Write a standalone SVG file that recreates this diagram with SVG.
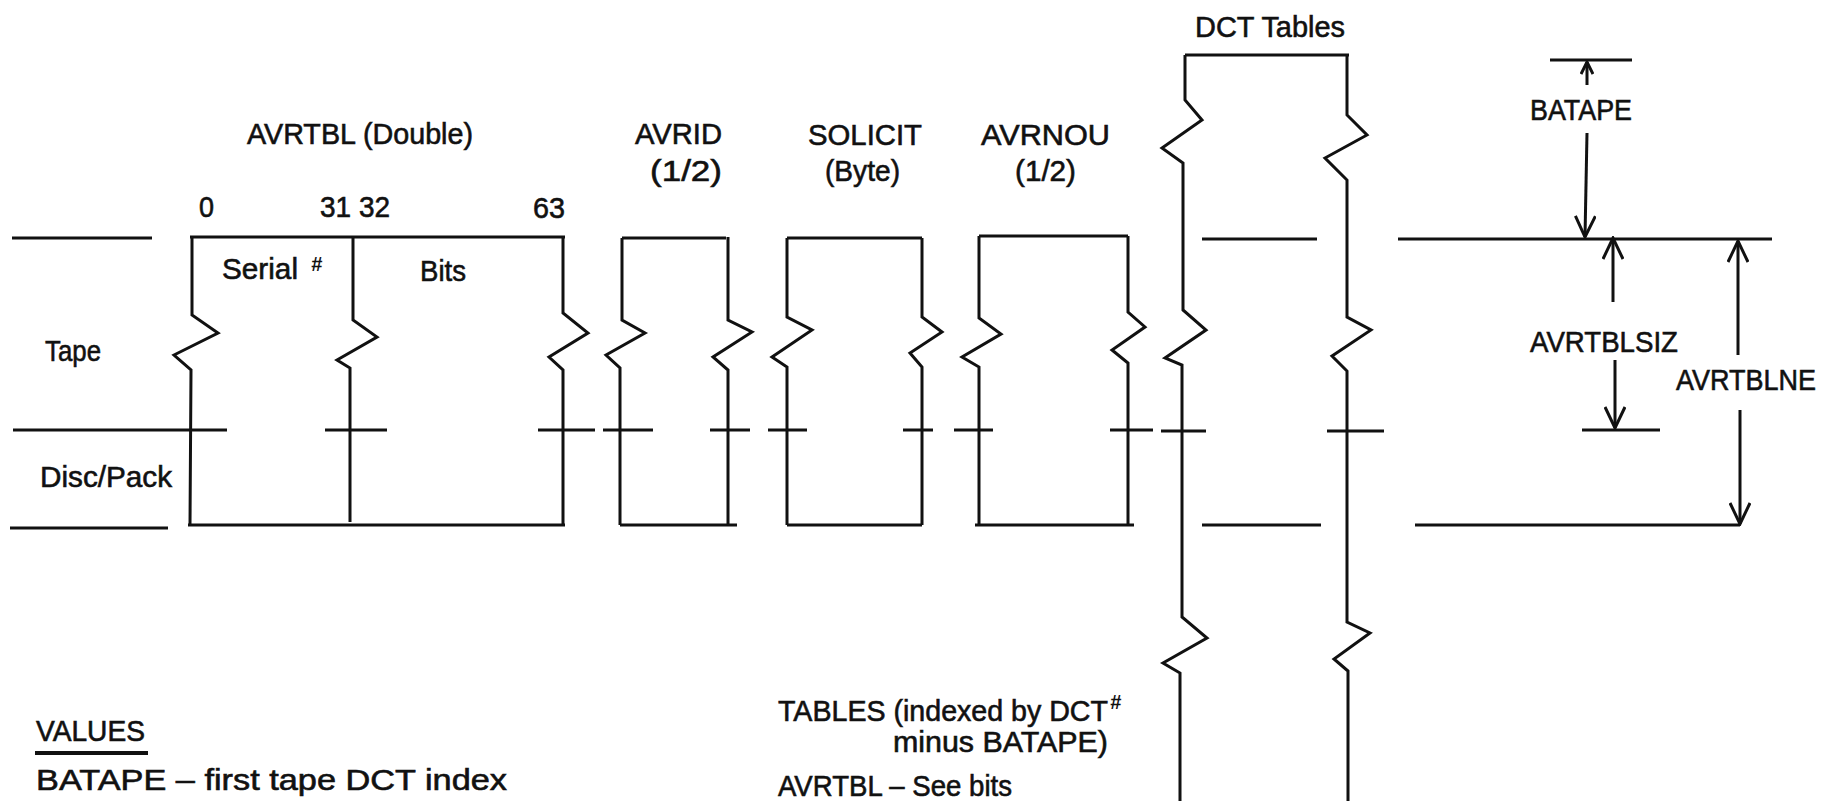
<svg xmlns="http://www.w3.org/2000/svg" width="1829" height="801" viewBox="0 0 1829 801">
<style>
  .ln { fill: none; stroke: #111; stroke-width: 3; stroke-linejoin: miter; stroke-linecap: butt; }
  .t { font-family: "Liberation Sans Narrow", "Liberation Sans", Arial, sans-serif; font-size: 30px; fill: #111; stroke: #111; stroke-width: 0.6; }
  .n { font-family: "Liberation Sans Narrow", "Liberation Sans", Arial, sans-serif; font-size: 29px; fill: #111; stroke: #111; stroke-width: 0.6; }
  .sup { font-family: "Liberation Sans", Arial, sans-serif; font-size: 20px; font-weight: bold; font-style: italic; stroke-width: 0; }
</style>
<defs>
  <marker id="vh" viewBox="0 0 24 22" refX="22" refY="11" markerWidth="24" markerHeight="22" markerUnits="userSpaceOnUse" orient="auto">
    <path d="M1,1 L22,11 L1,21" fill="none" stroke="#111" stroke-width="3"/>
  </marker>
  <marker id="vs" viewBox="0 0 14 14" refX="13" refY="7" markerWidth="14" markerHeight="14" markerUnits="userSpaceOnUse" orient="auto">
    <path d="M1,1 L13,7 L1,13" fill="none" stroke="#111" stroke-width="3"/>
  </marker>
</defs>
<rect width="1829" height="801" fill="#fff"/>

<g id="levels">
  <path class="ln" d="M12,238 H152 M13,430 H227 M10,528 H168"/>
  <text class="t" x="45" y="361" textLength="56" lengthAdjust="spacingAndGlyphs">Tape</text>
  <text class="t" x="40" y="487" textLength="132" lengthAdjust="spacingAndGlyphs">Disc/Pack</text>
</g>

<g id="avrtbl">
  <text class="t" x="247" y="144" textLength="226" lengthAdjust="spacingAndGlyphs">AVRTBL (Double)</text>
  <text class="t" x="199" y="217" textLength="15" lengthAdjust="spacingAndGlyphs">0</text>
  <text class="t" x="320" y="217" textLength="70" lengthAdjust="spacingAndGlyphs">31 32</text>
  <text class="t" x="533" y="218" textLength="32" lengthAdjust="spacingAndGlyphs">63</text>
  <path class="ln" d="M192,237 L192,315 L218,333 L174,355 L191,370 L190,525"/>
  <path class="ln" d="M190,237 H565"/>
  <path class="ln" d="M563,237 L563,313 L588,333 L549,357 L563,370 L563,525"/>
  <path class="ln" d="M188,525 H565"/>
  <path class="ln" d="M353,237 L353,320 L377,337 L337,360 L350,368 L350,522"/>
  <path class="ln" d="M325,430 H387 M538,430 H595"/>
  <text class="t" x="222" y="279"><tspan textLength="76" lengthAdjust="spacingAndGlyphs">Serial</tspan><tspan class="sup" x="311" y="271">#</tspan></text>
  <text class="t" x="420" y="281" textLength="46" lengthAdjust="spacingAndGlyphs">Bits</text>
</g>

<g id="avrid">
  <text class="t" x="635" y="144" textLength="87" lengthAdjust="spacingAndGlyphs">AVRID</text>
  <text class="t" x="650" y="181" textLength="72" lengthAdjust="spacingAndGlyphs">(1/2)</text>
  <path class="ln" d="M622,238 L622,320 L645,333 L606,355 L620,368 L620,525"/>
  <path class="ln" d="M622,238 H726"/>
  <path class="ln" d="M728,237 L728,320 L752,332 L713,357 L728,370 L728,525"/>
  <path class="ln" d="M620,525 H737"/>
  <path class="ln" d="M603,430 H653 M710,430 H750"/>
</g>

<g id="solicit">
  <text class="t" x="808" y="145" textLength="114" lengthAdjust="spacingAndGlyphs">SOLICIT</text>
  <text class="t" x="825" y="181" textLength="75" lengthAdjust="spacingAndGlyphs">(Byte)</text>
  <path class="ln" d="M787,238 L787,317 L812,330 L772,357 L787,367 L787,525"/>
  <path class="ln" d="M787,238 H922"/>
  <path class="ln" d="M922,238 L922,317 L942,332 L910,353 L922,367 L922,525"/>
  <path class="ln" d="M787,525 H922"/>
  <path class="ln" d="M768,430 H807 M903,430 H933"/>
</g>

<g id="avrnou">
  <text class="t" x="981" y="145" textLength="129" lengthAdjust="spacingAndGlyphs">AVRNOU</text>
  <text class="t" x="1015" y="181" textLength="61" lengthAdjust="spacingAndGlyphs">(1/2)</text>
  <path class="ln" d="M979,236 L979,318 L1001,334 L962,357 L979,367 L979,525"/>
  <path class="ln" d="M979,236 H1128"/>
  <path class="ln" d="M1128,236 L1128,312 L1145,327 L1112,350 L1128,363 L1128,525"/>
  <path class="ln" d="M975,525 H1134"/>
  <path class="ln" d="M954,430 H993 M1110,430 H1153"/>
</g>

<g id="dct-tables">
  <text class="t" x="1195" y="37" textLength="150" lengthAdjust="spacingAndGlyphs">DCT Tables</text>
  <path class="ln" d="M1185,55 H1349"/>
  <path class="ln" d="M1185,55 L1185,100 L1202,120 L1162,148 L1183,163 L1183,310 L1206,330 L1165,358 L1182,365 L1182,617 L1207,638 L1163,663 L1180,673 L1180,801"/>
  <path class="ln" d="M1347,55 L1347,115 L1367,135 L1325,158 L1347,180 L1347,317 L1371,330 L1332,356 L1347,371 L1347,622 L1370,633 L1334,659 L1348,671 L1348,801"/>
  <path class="ln" d="M1202,239 H1317 M1202,525 H1321"/>
  <path class="ln" d="M1161,431 H1206 M1327,431 H1384"/>
</g>

<g id="dimensions">
  <path class="ln" d="M1398,239 H1772 M1415,525 H1740 M1582,430 H1660 M1550,60 H1632"/>
  <text class="t" x="1530" y="120" textLength="102" lengthAdjust="spacingAndGlyphs">BATAPE</text>
  <text class="t" x="1530" y="352" textLength="148" lengthAdjust="spacingAndGlyphs">AVRTBLSIZ</text>
  <text class="t" x="1676" y="390" textLength="140" lengthAdjust="spacingAndGlyphs">AVRTBLNE</text>
</g>

<g id="connectors">
  <path class="ln" d="M1587,85 V62" marker-end="url(#vs)"/>
  <path class="ln" d="M1587,133 L1585,237" marker-end="url(#vh)"/>
  <path class="ln" d="M1613,302 V238" marker-end="url(#vh)"/>
  <path class="ln" d="M1615,360 V428" marker-end="url(#vh)"/>
  <path class="ln" d="M1738,355 V241" marker-end="url(#vh)"/>
  <path class="ln" d="M1740,410 V524" marker-end="url(#vh)"/>
</g>

<g id="notes">
  <text class="n" x="36" y="741" textLength="109" lengthAdjust="spacingAndGlyphs">VALUES</text>
  <path d="M35,753 H148" fill="none" stroke="#111" stroke-width="4"/>
  <text class="n" x="36" y="790" textLength="471" lengthAdjust="spacingAndGlyphs">BATAPE – first tape DCT index</text>
  <text class="n" x="778" y="721"><tspan textLength="330" lengthAdjust="spacingAndGlyphs">TABLES (indexed by DCT</tspan><tspan class="sup" x="1110" y="709">#</tspan></text>
  <text class="n" x="893" y="752" textLength="215" lengthAdjust="spacingAndGlyphs">minus BATAPE)</text>
  <text class="n" x="778" y="796" textLength="234" lengthAdjust="spacingAndGlyphs">AVRTBL – See bits</text>
</g>
</svg>
